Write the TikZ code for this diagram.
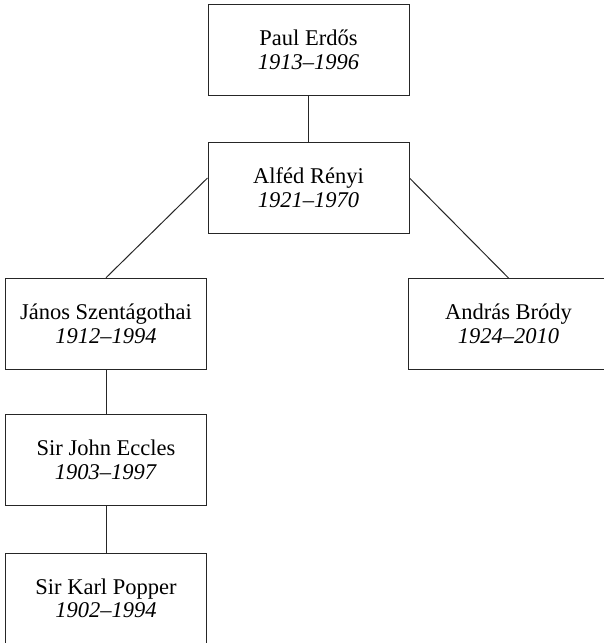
\documentclass[tikz,border=0pt]{standalone}
\usepackage{fontspec}
\setmainfont{Liberation Serif}
\usetikzlibrary{calc}

\tikzset{
  person/.style={draw=black!85, line width=1pt, rectangle,
    minimum width=201pt, minimum height=91pt, inner sep=0pt,
    align=center, font=\fontsize{22.5}{23.5}\selectfont},
  link/.style={draw=black!85, line width=1pt}
}

\begin{document}
\begin{tikzpicture}[x=1pt,y=-1pt]
  \useasboundingbox (0,0) rectangle (603,643);

  % family tree of advisors
  \node[person] (erdos)   at (308.5,49.75) {Paul Erdős\\\textit{1913–1996}};
  \node[person] (renyi)   at (308.5,187.5) {Alféd Rényi\\\textit{1921–1970}};
  \node[person] (szent)   at (106,323.75)  {János Szentágothai\\\textit{1912–1994}};
  \node[person] (brody)   at (508.5,324)   {András Bródy\\\textit{1924–2010}};
  \node[person] (eccles)  at (106,460)     {Sir John Eccles\\\textit{1903–1997}};
  \node[person] (popper)  at (106,598.5)   {Sir Karl Popper\\\textit{1902–1994}};

  % side exits of the middle box, a little above its centre line
  \coordinate (renyiL) at ($(renyi.west)+(0,-9.5)$);
  \coordinate (renyiR) at ($(renyi.east)+(0,-9.5)$);

  \draw[link] (erdos.south) -- (renyi.north);
  \draw[link] (renyiL) -- (szent.north);
  \draw[link] (renyiR) -- (brody.north);
  \draw[link] (szent.south) -- (eccles.north);
  \draw[link] (eccles.south) -- (popper.north);
\end{tikzpicture}
\end{document}
